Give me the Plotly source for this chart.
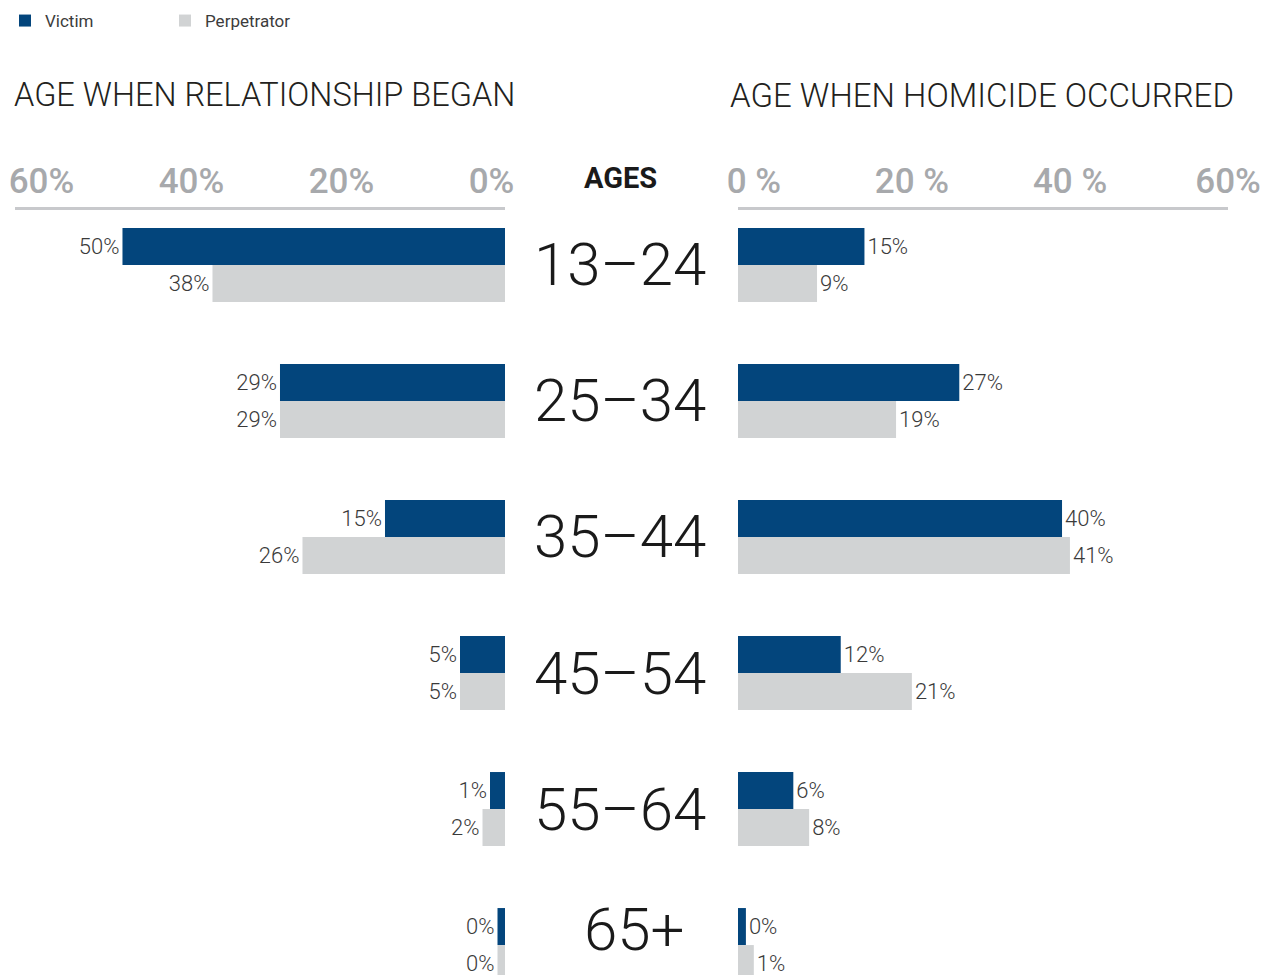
import plotly.graph_objects as go

ages = ["13–24", "25–34", "35–44", "45–54", "55–64", "65+"]
began_victim = [50, 29, 15, 5, 1, 0]
began_perp = [38, 29, 26, 5, 2, 0]
occurred_victim = [15, 27, 40, 12, 6, 0]
occurred_perp = [9, 19, 41, 21, 8, 1]

left_ticks = [60, 40, 20, 0]
left_ticktext = ["60%", "40%", "20%", "0%"]
right_ticks = [0, 20, 40, 60]
right_ticktext = ["0 %", "20 %", "40 %", "60%"]

BLUE = "#03457c"
GREY = "#d1d3d4"
FONT = "Roboto, Liberation Sans, sans-serif"
LABEL_FONT = dict(family=FONT, size=22, color="#3a3a3a", weight=300)
STUB = 1  # every bar carries a small stub so 0% bars stay visible, as in the original

fig = go.Figure()

def add_bars(vals, name, color, xa, ya, show):
    fig.add_trace(go.Bar(
        y=ages, x=[v + STUB for v in vals], base=-STUB, orientation="h",
        name=name, customdata=vals,
        marker=dict(color=color, line=dict(width=0)),
        text=[f"{v}%" for v in vals], textposition="outside",
        textfont=LABEL_FONT, constraintext="none", cliponaxis=False,
        xaxis=xa, yaxis=ya, showlegend=show,
        hovertemplate="%{y}: %{customdata}%<extra>" + name + "</extra>",
    ))

add_bars(began_victim, "Victim", BLUE, "x", "y", True)
add_bars(began_perp, "Perpetrator", GREY, "x", "y", True)
add_bars(occurred_victim, "Victim", BLUE, "x2", "y2", False)
add_bars(occurred_perp, "Perpetrator", GREY, "x2", "y2", False)

W, H = 1272, 975
TOP = 202
PLOT_H = H - TOP
yrange = [5.279, -0.404]
tickfont = dict(family=FONT, size=35, color="#a7a9ac", weight=500)

fig.update_layout(
    width=W, height=H,
    margin=dict(l=0, r=0, t=TOP, b=0, autoexpand=False),
    paper_bgcolor="white", plot_bgcolor="white",
    barmode="group", bargap=0.456, bargroupgap=0,
    xaxis=dict(domain=[7 / W, 497 / W], range=[64.33, -1], side="top",
               tickvals=left_ticks, ticktext=left_ticktext, tickfont=tickfont,
               showgrid=False, zeroline=False, showline=True,
               linecolor="#c8c9cc", linewidth=3, ticks="", ticklabelshift=6,
               automargin=False, fixedrange=True),
    yaxis=dict(anchor="x", range=yrange, showticklabels=False, showgrid=False,
               zeroline=False, showline=False, automargin=False,
               fixedrange=True),
    xaxis2=dict(domain=[730 / W, 1220 / W], range=[-1, 61], side="top",
                anchor="y2",
                tickvals=right_ticks, ticktext=right_ticktext, tickfont=tickfont,
                showgrid=False, zeroline=False, showline=True,
                linecolor="#c8c9cc", linewidth=3, ticks="", ticklabelshift=8,
                automargin=False, fixedrange=True),
    yaxis2=dict(anchor="x2", range=yrange, showticklabels=False, showgrid=False,
                zeroline=False, showline=False, automargin=False,
                fixedrange=True),
    legend=dict(orientation="h", x=-3 / W, y=1 + (TOP + 5) / PLOT_H,
                yanchor="top", xanchor="left", entrywidth=115,
                entrywidthmode="pixels",
                font=dict(family=FONT, size=17, color="#3c3c3c"),
                bgcolor="rgba(0,0,0,0)"),
)

# Age category labels in the middle (the last one is nudged up so it fits)
for a in ages:
    last = a == ages[-1]
    fig.add_annotation(x=612 / W, xref="paper", y=a, yref="y", text=a,
                       showarrow=False, xanchor="center", yanchor="middle",
                       xshift=14 if last else 0, yshift=16 if last else 0,
                       font=dict(family=FONT, size=60, color="#1a1a1a",
                                 weight=300))

fig.add_annotation(x=612 / W, xref="paper", y=1 + 32 / PLOT_H, yref="paper",
                   text="AGES", showarrow=False, xanchor="center",
                   yanchor="middle",
                   font=dict(family=FONT, size=29, color="#1a1a1a", weight=700))

title_y = 1 + (TOP - 87) / PLOT_H
fig.add_annotation(x=4 / W, xref="paper", y=title_y, yref="paper",
                   text="AGE WHEN RELATIONSHIP BEGAN", showarrow=False,
                   xanchor="left", yanchor="middle",
                   font=dict(family=FONT, size=32.5, color="#231f20", weight=300))
fig.add_annotation(x=720 / W, xref="paper", y=title_y, yref="paper",
                   text="AGE WHEN HOMICIDE OCCURRED", showarrow=False,
                   xanchor="left", yanchor="middle",
                   font=dict(family=FONT, size=33, color="#231f20", weight=300))

fig.write_html("out.html")
